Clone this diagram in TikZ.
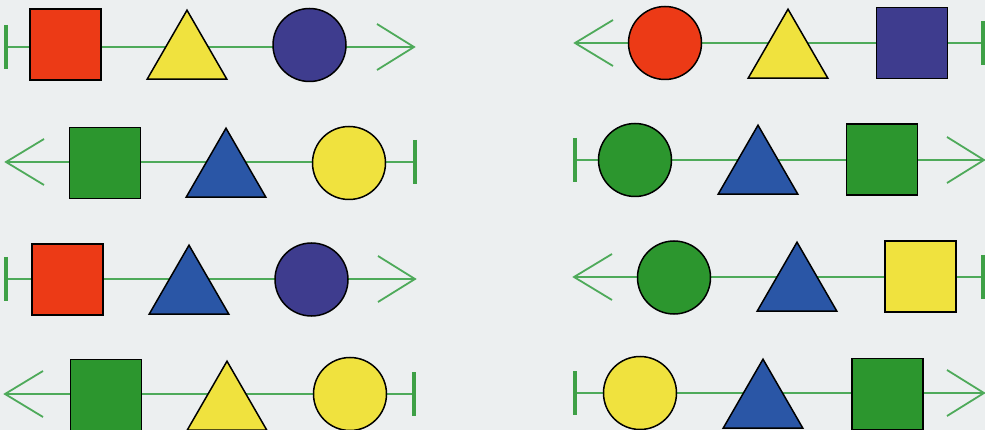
\documentclass[tikz,border=0pt]{standalone}
\usetikzlibrary{shapes.geometric}
\definecolor{bgc}{RGB}{236,239,240}
\definecolor{myred}{RGB}{236,58,22}
\definecolor{myyellow}{RGB}{240,226,62}
\definecolor{mynavy}{RGB}{62,60,142}
\definecolor{myblue}{RGB}{42,86,166}
\definecolor{mygreen}{RGB}{44,150,46}
\definecolor{linegreen}{RGB}{78,170,90}
\definecolor{bargreen}{RGB}{62,160,70}
\tikzset{
  sq/.style={draw=black, line width=1.5pt, rectangle, minimum size=71pt, inner sep=0pt, outer sep=0pt},
  ci/.style={draw=black, line width=1.5pt, circle, minimum size=73pt, inner sep=0pt, outer sep=0pt},
  tri/.style={draw=black, line width=1.5pt, line join=miter, regular polygon, regular polygon sides=3, minimum size=92pt, inner sep=0pt, outer sep=0pt},
  axis/.style={draw=linegreen, line width=1.8pt},
  barline/.style={draw=bargreen, line width=3.5pt},
  arms/.style={draw=linegreen, line width=1.8pt, line join=miter},
}
\newcommand\rowright[4]{% name, barx, tipx, y  (arrow points right)
  \coordinate (#1b) at (#2,#4);
  \coordinate (#1t) at (#3,#4);
  \draw[axis] (#1b) -- (#1t);
  \draw[barline] (#1b) ++(0,-22) -- ++(0,44);
  \draw[arms] (#1t) ++(-37,-23) -- (#1t) -- ++(-37,23);
}
\newcommand\rowleft[4]{% name, barx, tipx, y (arrow points left)
  \coordinate (#1b) at (#2,#4);
  \coordinate (#1t) at (#3,#4);
  \draw[axis] (#1b) -- (#1t);
  \draw[barline] (#1b) ++(0,-22) -- ++(0,44);
  \draw[arms] (#1t) ++(38,-23) -- (#1t) -- ++(38,23);
}
\begin{document}
\begin{tikzpicture}[x=1pt,y=-1pt]
\fill[bgc] (0,0) rectangle (985,430);
\useasboundingbox (0,0) rectangle (985,430);
% Row 1 left
\rowright{ra}{6}{414}{47}
\node[sq, fill=myred] (ra1) at (65.5,44.5) {};
\node[tri, fill=myyellow] (ra2) at (187,56.2) {};
\node[ci, fill=mynavy] (ra3) at (309.5,45) {};
% Row 1 right
\rowleft{rb}{983}{575}{43}
\node[ci, fill=myred] (rb1) at (665,43) {};
\node[tri, fill=myyellow] (rb2) at (788,55.2) {};
\node[sq, fill=mynavy] (rb3) at (912,43) {};
% Row 2 left
\rowleft{rc}{415}{6}{162}
\node[sq, fill=mygreen] (rc1) at (105,163) {};
\node[tri, fill=myblue] (rc2) at (226,174.2) {};
\node[ci, fill=myyellow] (rc3) at (349,163) {};
% Row 2 right
\rowright{rd}{575}{984}{160}
\node[ci, fill=mygreen] (rd1) at (635,160) {};
\node[tri, fill=myblue] (rd2) at (758,171.2) {};
\node[sq, fill=mygreen] (rd3) at (882,159.5) {};
% Row 3 left
\rowright{re}{6}{415}{279}
\node[sq, fill=myred] (re1) at (67.5,279.5) {};
\node[tri, fill=myblue] (re2) at (189,291.2) {};
\node[ci, fill=mynavy] (re3) at (311.5,279.5) {};
% Row 3 right
\rowleft{rf}{983}{574}{277}
\node[ci, fill=mygreen] (rf1) at (674,277.5) {};
\node[tri, fill=myblue] (rf2) at (797,288.2) {};
\node[sq, fill=myyellow] (rf3) at (920.5,276.5) {};
% Row 4 left
\rowleft{rg}{414}{5}{394}
\node[sq, fill=mygreen] (rg1) at (106,395) {};
\node[tri, fill=myyellow] (rg2) at (227,407.2) {};
\node[ci, fill=myyellow] (rg3) at (350,394) {};
% Row 4 right
\rowright{rh}{575}{984}{393}
\node[ci, fill=myyellow] (rh1) at (640,393) {};
\node[tri, fill=myblue] (rh2) at (763,405.2) {};
\node[sq, fill=mygreen] (rh3) at (887.5,394) {};
\end{tikzpicture}
\end{document}
